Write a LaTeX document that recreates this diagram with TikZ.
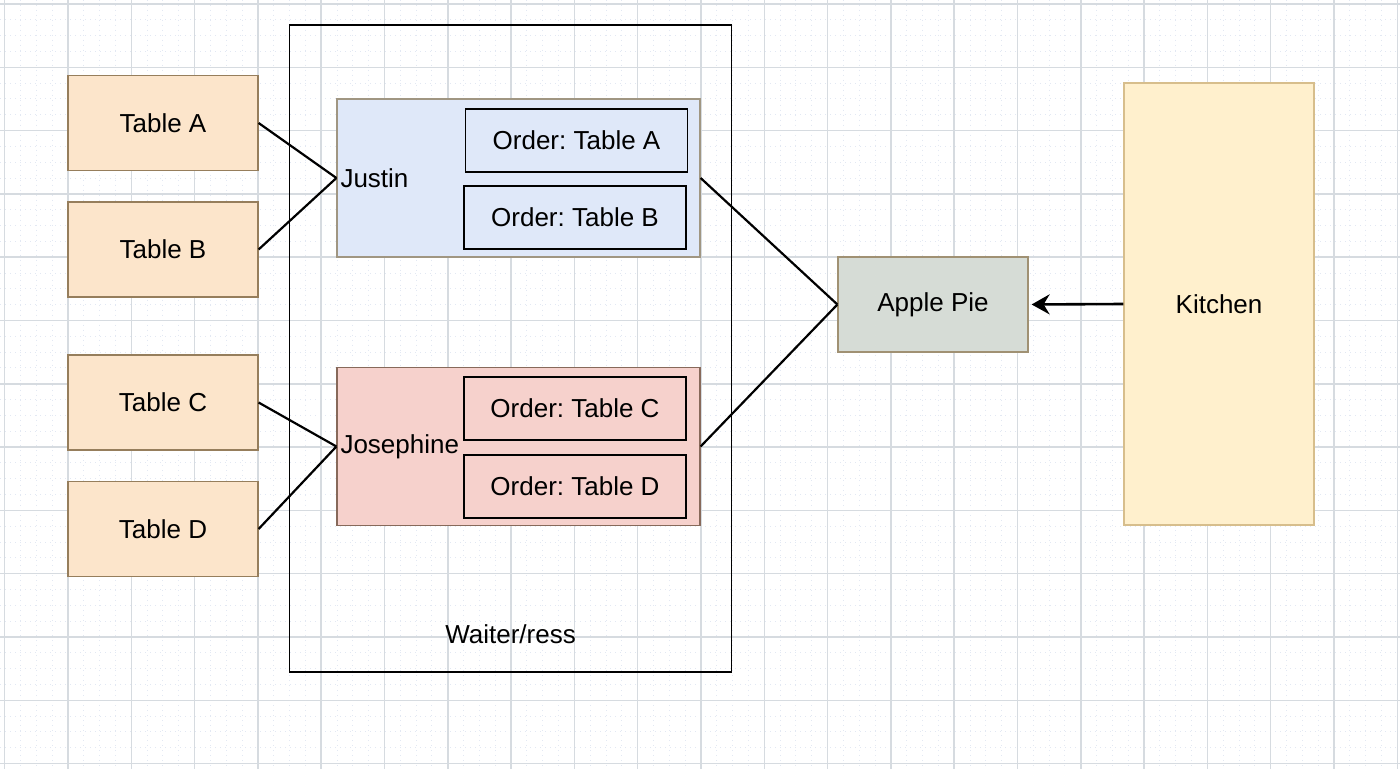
\documentclass[tikz,border=0pt]{standalone}
\usepackage{fontspec}
\setmainfont{Liberation Sans}
\usetikzlibrary{arrows.meta,positioning}

\definecolor{gridmajor}{RGB}{214,219,224}
\definecolor{gridminor}{RGB}{226,232,243}
\definecolor{tablefill}{RGB}{252,229,203}
\definecolor{tableline}{RGB}{150,126,92}
\definecolor{justinfill}{RGB}{223,232,249}
\definecolor{justinline}{RGB}{160,150,130}
\definecolor{josfill}{RGB}{246,209,204}
\definecolor{josline}{RGB}{135,105,90}
\definecolor{piefill}{RGB}{214,220,214}
\definecolor{pieline}{RGB}{160,145,115}
\definecolor{kitchenfill}{RGB}{255,240,205}
\definecolor{kitchenline}{RGB}{215,190,140}

\begin{document}
\frenchspacing
\begin{tikzpicture}[x=0.5pt, y=-0.5pt,
  font=\fontsize{13}{15}\selectfont,
  tablebox/.style={draw=tableline, fill=tablefill, line width=0.6pt,
    minimum width=95pt, minimum height=47.5pt, inner sep=0pt},
  groupbox/.style={line width=0.6pt, minimum width=181.5pt, minimum height=79pt,
    text width=178pt, inner sep=1.5pt, align=left},
  orderbox/.style={draw=black, line width=0.7pt, minimum width=111pt,
    minimum height=31.5pt, inner sep=0pt},
  link/.style={line width=1.1pt, black},
  minorline/.style={gridminor, dotted, line width=0.5pt},
  majorline/.style={gridmajor, line width=0.75pt},
]
% Background and grid
\useasboundingbox (0,0) rectangle (1400,769);
\fill[white] (0,0) rectangle (1400,769);
\foreach \i in {0,...,88}
  \draw[minorline] ({4.7+15.825*\i},0) -- ({4.7+15.825*\i},769);
\foreach \j in {0,...,48}
  \draw[minorline] (0,{4+15.825*\j}) -- (1400,{4+15.825*\j});
\foreach \i in {0,...,22}
  \draw[majorline] ({4.7+63.3*\i},0) -- ({4.7+63.3*\i},769);
\foreach \j in {0,...,12}
  \draw[majorline] (0,{4+63.3*\j}) -- (1400,{4+63.3*\j});

% Tables
\node[tablebox] (tabA) at (163,123) {Table A};
\node[tablebox] (tabB) at (163,249.5) {Table B};
\node[tablebox] (tabC) at (163,402.5) {Table C};
\node[tablebox] (tabD) at (163,529) {Table D};

% Waiter/ress frame
\node[draw=black, line width=0.6pt, minimum width=221pt, minimum height=323.5pt,
  inner sep=0pt] (waiter) at (510.5,348.5) {};
\node (waitlbl) at ([yshift=19pt]waiter.south) {Waiter/ress};

% Justin and Josephine
\node[groupbox, draw=justinline, fill=justinfill] (justin) at (518.5,178) {Justin};
\node[groupbox, draw=josline, fill=josfill] (josephine) at (518.5,446.5) {Josephine};

% Orders
\node[orderbox] (ordA) at (576.5,140.5) {Order: Table A};
\node[orderbox] (ordB) at (575,217.5) {Order: Table B};
\node[orderbox] (ordC) at (575,408.5) {Order: Table C};
\node[orderbox] (ordD) at (575,486.5) {Order: Table D};

% Apple Pie and Kitchen
\node[draw=pieline, fill=piefill, line width=0.6pt, minimum width=95pt,
  minimum height=47.5pt, inner sep=0pt] (pie) at (933,304.5) {Apple Pie};
\node[draw=kitchenline, fill=kitchenfill, line width=0.6pt, minimum width=95pt,
  minimum height=221pt, inner sep=0pt] (kitchen) at (1219,304) {Kitchen};

% Connectors
\draw[link] (tabA.east) -- (justin.west);
\draw[link] (tabB.east) -- (justin.west);
\draw[link] (tabC.east) -- (josephine.west);
\draw[link] (tabD.east) -- (josephine.west);
\draw[link] (justin.east) -- (pie.west);
\draw[link] (josephine.east) -- (pie.west);
\draw[link, line width=1.3pt, -{Stealth[length=9pt, width=10pt, inset=3pt]},
  shorten >=1.5pt] (kitchen.west) -- (pie.east);
\end{tikzpicture}
\end{document}
